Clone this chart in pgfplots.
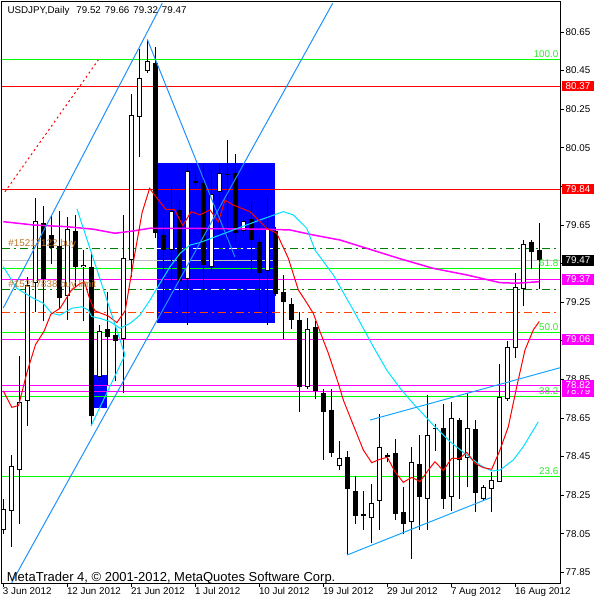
\documentclass[border=0pt]{standalone}
\usepackage{fontspec}
\setmainfont{Liberation Sans}
\usepackage{pgfplots}
\usepackage{pgfplotstable}
\pgfplotsset{compat=1.18}
\definecolor{fibgreen}{RGB}{0,255,0}
\definecolor{fibtxt}{RGB}{40,235,40}
\definecolor{dkgreen}{RGB}{0,128,0}
\definecolor{maC}{RGB}{0,225,255}
\definecolor{dblue}{RGB}{30,144,255}
\definecolor{tblue}{RGB}{20,165,255}
\definecolor{oranred}{RGB}{255,69,0}
\definecolor{lbltxt}{RGB}{185,120,45}
\definecolor{grayl}{RGB}{192,192,192}
\definecolor{mag}{RGB}{255,0,255}

\pgfplotstableread{
i O H L C
0 78.07 78.23 78.05 78.18
1 78.17 78.46 77.98 78.40
2 78.38 78.97 78.10 78.73
3 78.74 79.38 78.61 79.34
4 79.35 79.79 79.20 79.67
5 79.66 79.75 79.15 79.37
6 79.60 79.70 79.45 79.53
7 79.54 79.72 79.22 79.27
8 79.28 79.69 79.16 79.63
9 79.62 79.70 79.33 79.43
10 79.43 79.52 79.15 79.445
11 79.43 79.51 78.61 78.66
12 78.86 79.13 78.84 79.10
13 79.11 79.30 78.82 79.07
14 79.08 79.13 78.84 79.05
15 79.06 79.70 78.78 79.48
16 79.47 80.33 79.38 80.22
17 80.21 80.56 80.00 80.41
18 80.45 80.61 80.44 80.50
19 80.49 80.57 79.58 79.61
20 79.60 79.68 79.24 79.52
21 79.52 79.85 79.35 79.72
22 79.73 79.78 79.23 79.36
23 79.37 79.97 79.13 79.93
24 79.87 79.93 79.85 79.88
25 79.87 79.97 79.30 79.44
26 79.43 79.93 79.41 79.81
27 79.82 79.97 79.58 79.92
28 79.91 80.09 79.55 79.91
29 79.92 80.02 79.56 79.61
30 79.62 79.69 79.60 79.67
31 79.68 79.77 79.40 79.57
32 79.56 79.59 79.21 79.40
33 79.41 79.79 79.13 79.63
34 79.62 79.64 79.28 79.29
35 79.30 79.39 79.06 79.25
36 79.24 79.27 79.11 79.16
37 79.16 79.20 78.68 78.81
38 78.81 79.17 78.80 79.11
39 79.12 79.15 78.75 78.79
40 78.78 78.80 78.43 78.68
41 78.69 78.80 78.45 78.47
42 78.40 78.53 78.38 78.44
43 78.45 78.48 77.94 78.28
44 78.27 78.35 78.10 78.14
45 78.15 78.27 78.07 78.14
46 78.13 78.31 78.00 78.21
47 78.22 78.67 78.07 78.50
48 78.45 78.47 78.42 78.46
49 78.47 78.54 78.12 78.15
50 78.16 78.29 78.05 78.10
51 78.11 78.50 77.92 78.42
52 78.41 78.56 78.07 78.24
53 78.23 78.77 78.07 78.56
54 78.60 78.62 78.48 78.59
55 78.60 78.72 78.18 78.23
56 78.24 78.73 78.17 78.65
57 78.64 78.65 78.23 78.43
58 78.44 78.78 78.29 78.60
59 78.59 78.64 78.16 78.26
60 78.23 78.30 78.22 78.29
61 78.28 78.37 78.16 78.33
62 78.32 78.93 78.32 78.76
63 78.75 79.05 78.74 79.02
64 79.01 79.40 78.96 79.33
65 79.32 79.57 79.23 79.55
66 79.56 79.57 79.42 79.51
67 79.52 79.66 79.32 79.47
}\candles

\newcommand{\lf}{\fontsize{9.8}{11}\selectfont}

\begin{document}
\begin{tikzpicture}
\useasboundingbox (0pt,0pt) rectangle (600pt,600pt);
\begin{axis}[
  at={(2pt,17pt)}, anchor=south west,
  scale only axis, width=558pt, height=581pt,
  xmin=-0.1625, xmax=69.5875, ymin=77.7945, ymax=80.8055,
  axis line style={black, line width=1pt},
  clip mode=individual,
  xtick={0,8,16,24,32,40,48,56,64},
  xticklabels={3 Jun 2012,12 Jun 2012,21 Jun 2012,1 Jul 2012,10 Jul 2012,19 Jul 2012,29 Jul 2012,7 Aug 2012,16 Aug 2012},
  ytick={77.85,78.05,78.25,78.45,78.65,78.85,79.05,79.25,79.45,79.65,79.85,80.05,80.25,80.45,80.65},
  yticklabels={77.85,78.05,78.25,78.45,78.65,78.85,{},79.25,{},79.65,{},80.05,80.25,80.45,80.65},
  xtick pos=bottom, ytick pos=right, yticklabel pos=right,
  tick align=outside, major tick length=3.5pt,
  tick style={black, line width=0.8pt},
  xticklabel style={anchor=north west, inner sep=0pt, xshift=-0.5pt, yshift=-1pt},
  yticklabel style={anchor=west, inner sep=0pt, xshift=2pt},
  tick label style={font=\lf},
]
% rectangles
\addplot[fill=blue, draw=none, forget plot] coordinates {(19.26,79.143) (33.96,79.143) (33.96,79.971) (19.26,79.971)} --cycle;
\addplot[fill=blue, draw=none, forget plot] coordinates {(11.34,78.70) (12.99,78.70) (12.99,78.871) (11.34,78.871)} --cycle;

% horizontal levels
\addplot[fibgreen, line width=1pt] coordinates {(-0.1625,80.509) (69.5875,80.509)};
\addplot[fibgreen, line width=1pt] coordinates {(-0.1625,79.425) (69.5875,79.425)};
\addplot[fibgreen, line width=1pt] coordinates {(-0.1625,79.094) (69.5875,79.094)};
\addplot[fibgreen, line width=1pt] coordinates {(-0.1625,78.762) (69.5875,78.762)};
\addplot[fibgreen, line width=1pt] coordinates {(-0.1625,78.345) (69.5875,78.345)};
\addplot[red, line width=1pt] coordinates {(-0.1625,80.369) (69.5875,80.369)};
\addplot[red, line width=1pt] coordinates {(-0.1625,79.836) (69.5875,79.836)};
\addplot[grayl, line width=1pt] coordinates {(-0.1625,79.467) (69.5875,79.467)};
\addplot[mag, line width=1pt] coordinates {(-0.1625,79.368) (69.5875,79.368)};
\addplot[mag, line width=1pt] coordinates {(-0.1625,79.057) (69.5875,79.057)};
\addplot[mag, line width=1pt] coordinates {(-0.1625,78.820) (69.5875,78.820)};
\addplot[mag, line width=1pt] coordinates {(-0.1625,78.788) (69.5875,78.788)};
\addplot[dkgreen, line width=1pt, dash pattern=on 8pt off 4pt on 2pt off 4pt] coordinates {(-0.1625,79.529) (69.5875,79.529)};
\addplot[dkgreen, line width=1pt, dash pattern=on 8pt off 4pt on 2pt off 4pt] coordinates {(-0.1625,79.317) (69.5875,79.317)};
\addplot[oranred, line width=1pt, dash pattern=on 8pt off 4pt on 2pt off 4pt] coordinates {(-0.1625,79.197) (69.5875,79.197)};
\addplot[white, line width=1pt, dash pattern=on 8pt off 4pt on 2pt off 4pt] coordinates {(19.26,79.529) (33.96,79.529)};
\addplot[white, line width=1pt, dash pattern=on 8pt off 4pt on 2pt off 4pt] coordinates {(19.26,79.317) (33.96,79.317)};

% candles: wicks
\addplot[draw=none, mark=none, forget plot,
  error bars/.cd, y dir=plus, y explicit, error mark=none,
  error bar style={draw=black, solid, line width=1pt}]
  table[x=i, y=L, y error plus expr={\thisrow{H}-\thisrow{L}}] {\candles};
% candles: outer bodies
\addplot[draw=none, mark=none, forget plot,
  error bars/.cd, y dir=plus, y explicit, error mark=none,
  error bar style={draw=black, solid, line width=5pt}]
  table[x=i, y expr={min(\thisrow{O},\thisrow{C})}, y error plus expr={max(abs(\thisrow{C}-\thisrow{O}),0.0055)}] {\candles};
% candles: hollow insides of rising days
\addplot[draw=none, mark=none, forget plot,
  error bars/.cd, y dir=plus, y explicit, error mark=none,
  error bar style={draw=white, solid, line width=3pt}]
  table[x=i, y expr={\thisrow{O}+0.0052}, y error plus expr={max(\thisrow{C}-\thisrow{O}-0.0104,0)}] {\candles};

% moving averages
\addplot[mag, line width=1.5pt] coordinates {(0,79.667) (3.75,79.65) (7.93,79.641) (11.25,79.628) (13.96,79.607) (16.25,79.619) (18.34,79.633) (24.59,79.632) (32.93,79.628) (35.84,79.624) (38.75,79.598) (42.09,79.572) (45.43,79.529) (49.59,79.475) (53.75,79.425) (57.93,79.391) (62.09,79.351) (64.18,79.348) (67,79.356)};
\addplot[maC, line width=1pt] coordinates {(0,79.434) (1.68,79.322) (3.75,79.27) (5,79.244) (6.05,79.192) (7.09,79.183) (8.55,79.218) (9.8,79.226) (10.63,79.209) (11.05,79.175) (12.09,79.166) (13.34,79.149) (14.59,79.115) (15.84,79.14) (17.09,79.183) (18.34,79.261) (19.59,79.348) (20.84,79.434) (22.09,79.503) (23.34,79.546) (24.59,79.559) (28.75,79.624) (32.09,79.676) (35,79.719) (36.25,79.702) (37.93,79.633) (38.96,79.52) (41.25,79.391) (43.75,79.209) (46.25,79.019) (47.93,78.898) (49.59,78.805) (50.84,78.743) (53.75,78.613) (55.84,78.527) (57.93,78.458) (59.59,78.406) (61.05,78.375) (62.09,78.38) (63.75,78.432) (65,78.501) (66.88,78.63)};
\addplot[red, line width=1pt] coordinates {(0,78.79) (1.06,78.705) (1.91,78.714) (2.98,78.889) (4.03,79.03) (5.09,79.099) (5.94,79.187) (7.11,79.219) (8.48,79.31) (9.53,79.345) (10.16,79.354) (10.8,79.266) (11.44,79.205) (13.13,79.178) (14.19,79.144) (15.24,79.205) (16.3,79.468) (17.35,79.714) (18.29,79.84) (19.46,79.775) (20.31,79.731) (21.38,79.731) (22.43,79.647) (23.49,79.719) (24.59,79.702) (25.84,79.728) (26.88,79.667) (27.71,79.779) (28.75,79.753) (30.84,79.719) (32.93,79.633) (34.18,79.607) (35.63,79.477) (36.88,79.313) (37.71,79.261) (38.75,79.192) (39.59,79.097) (40.63,78.985) (41.88,78.829) (42.5,78.743) (43.75,78.613) (45,78.484) (46.05,78.418) (47.09,78.436) (48,78.446) (48.96,78.371) (50,78.316) (51.05,78.342) (52.09,78.32) (53.13,78.38) (53.96,78.423) (55,78.377) (56.05,78.441) (57.09,78.441) (57.93,78.472) (58.96,78.415) (60,78.392) (61.05,78.384) (62.09,78.484) (63.13,78.605) (64.18,78.812) (65.21,79.002) (66.25,79.106) (67,79.15)};

% trend lines
\addplot[dblue, line width=1pt] coordinates {(0,79.22) (19.875,80.799)};
\addplot[dblue, line width=1pt] coordinates {(1.05,77.796) (41.175,80.799)};
\addplot[dblue, line width=1pt] coordinates {(18,80.612) (28.96,79.484)};
\addplot[maC, line width=1pt] coordinates {(9.21,79.733) (15.21,78.976) (10.96,78.608)};
\addplot[tblue, line width=1pt] coordinates {(45.84,78.639) (69.5875,78.91)};
\addplot[tblue, line width=1pt] coordinates {(43,77.94) (60.93,78.237)};
\addplot[red, line width=1pt, dash pattern=on 2pt off 3pt] coordinates {(0.21,79.822) (11.875,80.505)};

% texts inside the chart
\node[anchor=north west, inner sep=0pt, font=\lf] at (rel axis cs:0,1) [xshift=5.3pt, yshift=-4.5pt] {USDJPY,Daily\hspace{7pt}79.52\hspace{4pt}79.66\hspace{4pt}79.32\hspace{4pt}79.47};
\node[anchor=base west, inner sep=0pt, font=\fontsize{13}{14}\selectfont] at (rel axis cs:0,0) [xshift=4.7pt, yshift=1.5pt] {MetaTrader 4, © 2001-2012, MetaQuotes Software Corp.};
\node[anchor=base west, inner sep=0pt, font=\lf, text=lbltxt] at (axis cs:-0.1625,79.529) [xshift=6.3pt, yshift=2pt] {\#15217122 buy};
\node[anchor=base west, inner sep=0pt, font=\lf, text=lbltxt] at (axis cs:-0.1625,79.317) [xshift=6.3pt, yshift=2pt] {\#15217838 buy limit};
\node[anchor=south east, inner sep=0pt, font=\lf, text=fibtxt] at (axis cs:69.5875,80.509) [xshift=-1.5pt, yshift=1.5pt] {100.0};
\node[anchor=south east, inner sep=0pt, font=\lf, text=fibtxt] at (axis cs:69.5875,79.425) [xshift=-1.5pt, yshift=1.5pt] {61.8};
\node[anchor=south east, inner sep=0pt, font=\lf, text=fibtxt] at (axis cs:69.5875,79.094) [xshift=-1.5pt, yshift=1.5pt] {50.0};
\node[anchor=south east, inner sep=0pt, font=\lf, text=fibtxt] at (axis cs:69.5875,78.762) [xshift=-1.5pt, yshift=1.5pt] {38.2};
\node[anchor=south east, inner sep=0pt, font=\lf, text=fibtxt] at (axis cs:69.5875,78.345) [xshift=-1.5pt, yshift=1.5pt] {23.6};

% price boxes on the right scale
\tikzset{pbox/.style={anchor=west, inner xsep=4pt, inner ysep=0pt, minimum height=10.5pt, font=\lf, text=white, xshift=1.5pt}}
\node[pbox, fill=red] at (axis cs:69.5875,80.369) {80.37};
\node[pbox, fill=red] at (axis cs:69.5875,79.836) {79.84};
\node[pbox, fill=mag] at (axis cs:69.5875,78.788) {78.79};
\node[pbox, fill=mag] at (axis cs:69.5875,78.820) {78.82};
\node[pbox, fill=mag] at (axis cs:69.5875,79.057) {79.06};
\node[pbox, fill=mag] at (axis cs:69.5875,79.368) {79.37};
\node[pbox, fill=black] at (axis cs:69.5875,79.467) {79.47};
\end{axis}
\end{tikzpicture}
\end{document}
